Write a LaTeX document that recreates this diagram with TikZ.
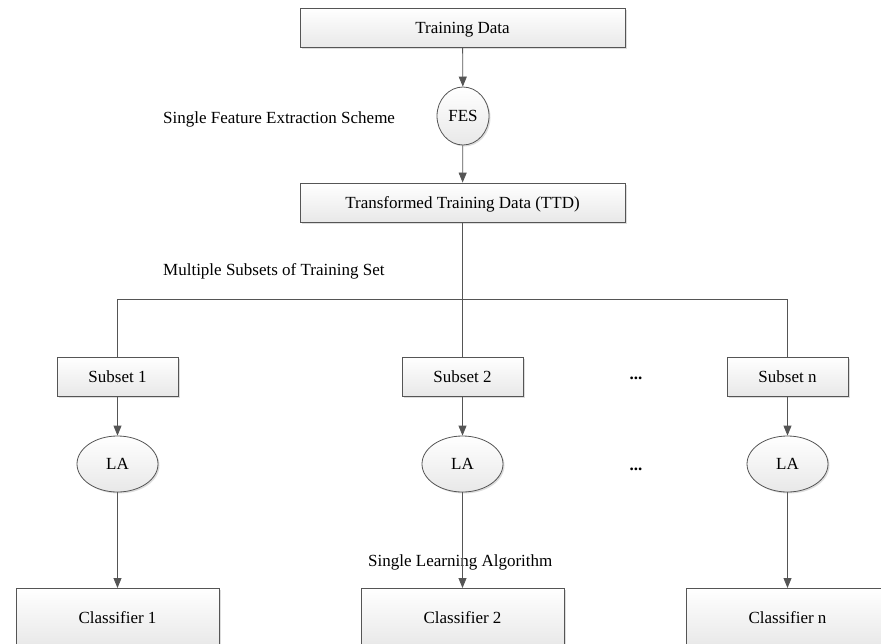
\documentclass[tikz,border=0pt]{standalone}
\usepackage{fontspec}
\setmainfont{Liberation Serif}
\usetikzlibrary{arrows.meta,shapes.geometric,shadows}
\definecolor{linec}{HTML}{555555}
\tikzset{
  boxbase/.style={draw=linec, line width=0.8pt, top color=white, bottom color=gray!18,
    drop shadow={shadow xshift=1.5pt, shadow yshift=-1.5pt, fill=gray!45, opacity=0.6},
    inner sep=0pt, font=\fontsize{17}{20}\selectfont, text height=11.4pt, text depth=0pt},
  rbox/.style={boxbase, rectangle, minimum width=#1, minimum height=39pt},
  ell/.style 2 args={boxbase, ellipse, minimum width=#1, minimum height=#2},
  conn/.style={draw=linec, line width=0.8pt},
  arr/.style={conn, -{Triangle[length=10pt,width=8pt]}},
  lbl/.style={font=\fontsize{17}{20}\selectfont, inner sep=0pt, anchor=west, text height=11.4pt, text depth=0pt},
  dots/.style={font=\fontsize{17}{20}\selectfont\bfseries, inner sep=0pt}
}
\begin{document}
\begin{tikzpicture}[x=1pt,y=-1pt]
\useasboundingbox (0,0) rectangle (881,643);
\clip (0,0) rectangle (881,643);
\node[rbox=325pt] (td) at (462.5,28) {Training Data};
\node[ell={52pt}{58pt}] (fes) at (463,116) {FES};
\node[rbox=325pt] (ttd) at (462.5,202.5) {Transformed Training Data (TTD)};
\coordinate (bus) at (463,299);
\node[rbox=121pt] (s1) at (117.5,376.5) {Subset 1};
\node[rbox=121pt] (s2) at (462.5,376.5) {Subset 2};
\node[rbox=121pt] (sn) at (787.5,376.5) {Subset n};
\node[ell={81pt}{56pt}] (la1) at (117.5,464) {LA};
\node[ell={81pt}{56pt}] (la2) at (462.5,464) {LA};
\node[ell={81pt}{56pt}] (lan) at (787.5,464) {LA};
\node[rbox=203pt, minimum height=58pt, anchor=north] (c1) at (117.5,588) {Classifier 1};
\node[rbox=203pt, minimum height=58pt, anchor=north] (c2) at (462.5,588) {Classifier 2};
\node[rbox=203pt, minimum height=58pt, anchor=north] (cn) at (787.5,588) {Classifier n};

\node[lbl] (l1) at (163,118) {Single Feature Extraction Scheme};
\node[lbl] (l2) at (163,270) {Multiple Subsets of Training Set};
\node[lbl] (l3) at (368,561) {Single Learning Algorithm};
\node[dots] (d1) at (636,378) {...};
\node[dots] (d2) at (636,469) {...};

\draw[arr] (td) -- (fes);
\draw[arr] (fes) -- (ttd);
\draw[conn] (ttd) -- (s2);
\draw[conn] (s1.north) -- (s1.north |- bus) -- (sn.north |- bus) -- (sn.north);
\draw[arr] (s1) -- (la1);
\draw[arr] (s2) -- (la2);
\draw[arr] (sn) -- (lan);
\draw[arr] (la1) -- (c1);
\draw[arr] (la2) -- (c2);
\draw[arr] (lan) -- (cn);
\end{tikzpicture}
\end{document}
